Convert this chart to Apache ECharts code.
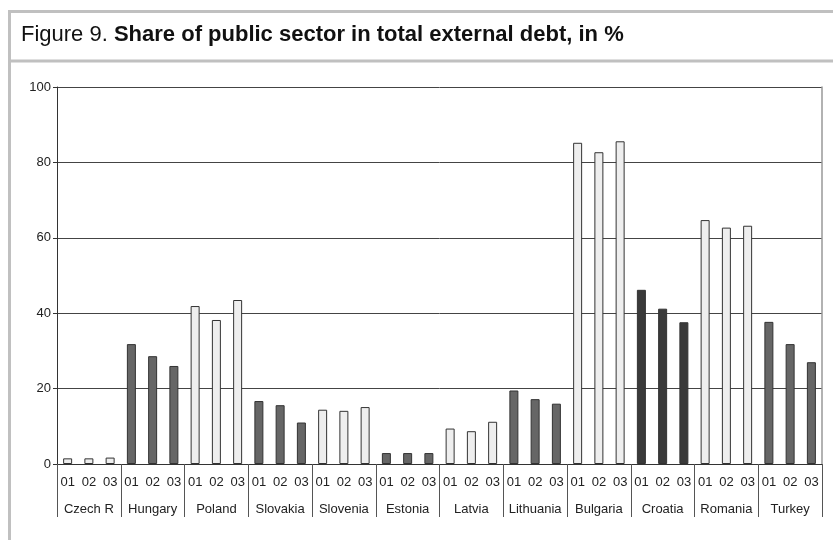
<!DOCTYPE html>
<html><head><meta charset="utf-8">
<script src="https://cdn.jsdelivr.net/npm/echarts@6/dist/echarts.min.js"></script>
<style>html,body{margin:0;padding:0;background:#fff}#c{width:833px;height:540px}</style>
</head><body><div id="c"></div>
<script>
const countries = ['Czech R','Hungary','Poland','Slovakia','Slovenia','Estonia','Latvia','Lithuania','Bulgaria','Croatia','Romania','Turkey'];
const years = ['01','02','03'];
const y2001 = [1.5, 31.8, 41.9, 16.7, 14.4, 2.9, 9.4, 19.5, 85.2, 46.2, 64.7, 37.7];
const y2002 = [1.5, 28.6, 38.2, 15.6, 14.1, 2.9, 8.7, 17.2, 82.7, 41.2, 62.7, 31.8];
const y2003 = [1.7, 26.0, 43.5, 11.0, 15.1, 2.9, 11.2, 16.0, 85.6, 37.6, 63.2, 27.0];
const yTicks = [0, 20, 40, 60, 80, 100];

const shade = ['#eeeeee','#666666','#eeeeee','#666666','#eeeeee','#666666','#eeeeee','#666666','#eeeeee','#3a3a3a','#eeeeee','#666666'];

const cats = [], data = [];
countries.forEach((c, i) => {
  [y2001, y2002, y2003].forEach((arr, j) => {
    cats.push(years[j]);
    data.push({value: arr[i], itemStyle: {color: shade[i]}});
  });
});

const chart = echarts.init(document.getElementById('c'));
const font = '"Liberation Sans", Arial, sans-serif';
chart.setOption({
  animation: false,
  backgroundColor: '#fff',
  title: {
    left: 16, top: 19,
    text: '{a|Figure 9. }{b|Share of public sector in total external debt, in %}',
    textStyle: {
      rich: {
        a: {fontFamily: font, fontSize: 22, fontWeight: 'normal', color: '#111'},
        b: {fontFamily: font, fontSize: 22, fontWeight: 'bold', color: '#111'}
      }
    }
  },
  graphic: [
    {type: 'line', shape: {x1: 8, y1: 11.5, x2: 833, y2: 11.5}, style: {stroke: '#c0c0c0', lineWidth: 3}},
    {type: 'line', shape: {x1: 8, y1: 61, x2: 833, y2: 61}, style: {stroke: '#c0c0c0', lineWidth: 3}},
    {type: 'line', shape: {x1: 9.5, y1: 10, x2: 9.5, y2: 540}, style: {stroke: '#c0c0c0', lineWidth: 3}}
  ],
  grid: {left: 57, right: 11, top: 87, bottom: 76},
  xAxis: [
    {
      type: 'category', data: cats, position: 'bottom',
      axisLine: {show: true, lineStyle: {color: '#333', width: 1}},
      axisTick: {show: false},
      axisLabel: {interval: 0, margin: 12, fontSize: 13, color: '#222', fontFamily: font}
    },
    {
      type: 'category', data: countries, position: 'bottom',
      axisLine: {show: false},
      axisTick: {show: true, length: 53, lineStyle: {color: '#555', width: 1}, interval: 0},
      axisLabel: {interval: 0, margin: 39, fontSize: 13, color: '#222', fontFamily: font}
    }
  ],
  yAxis: [
    {
      type: 'value', min: 0, max: 100, interval: 20,
      axisLine: {show: true, lineStyle: {color: '#333'}},
      axisTick: {show: true, length: 4, lineStyle: {color: '#333'}},
      axisLabel: {margin: 6, fontSize: 13, color: '#222', fontFamily: font},
      splitLine: {show: true, lineStyle: {color: '#444', width: 1}}
    },
    {
      type: 'value', min: 0, max: 100, interval: 20, position: 'right',
      axisLine: {show: true, lineStyle: {color: '#999', width: 1.5}},
      axisTick: {show: false}, axisLabel: {show: false}, splitLine: {show: false}
    }
  ],
  series: [{
    type: 'bar', xAxisIndex: 0, yAxisIndex: 0, data: data, barWidth: 9,
    itemStyle: {borderColor: '#333', borderWidth: 1}
  }]
});
</script></body></html>
